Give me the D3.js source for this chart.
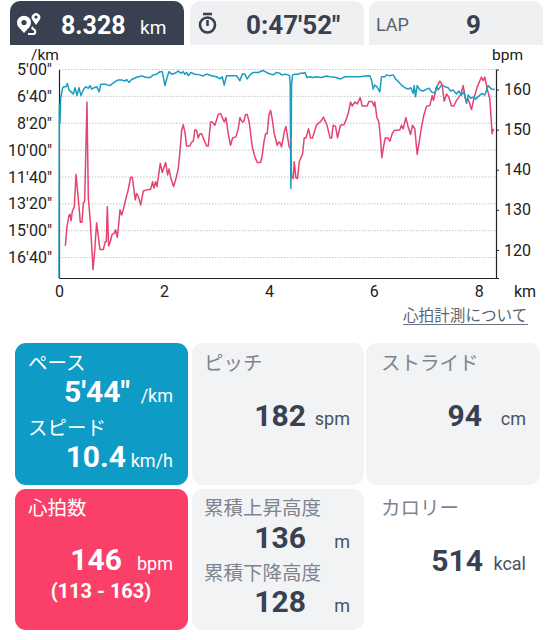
<!DOCTYPE html>
<html>
<head>
<meta charset="utf-8">
<script src="https://cdn.jsdelivr.net/npm/d3@7"></script>
<style>
  html, body { margin: 0; padding: 0; background: #fff; }
  text { font-family: Roboto, "Noto Sans CJK JP", sans-serif; }
  .jp { font-family: "Noto Sans CJK JP", sans-serif; }
  .axis path, .axis line { stroke: #222; }
  .axis text { font-size: 16px; fill: #222; font-family: Roboto, sans-serif; }
</style>
</head>
<body>
<div id="root"></div>
<script>
const paceKm = [0,0.006,0.019,0.032,0.07,0.095,0.133,0.159,0.19,0.241,0.273,0.305,0.343,0.381,0.419,0.464,0.508,0.559,0.59,0.622,0.667,0.717,0.768,0.794,0.876,0.971,1.067,1.13,1.194,1.257,1.289,1.333,1.384,1.48,1.575,1.67,1.733,1.797,1.86,1.924,1.968,2.019,2.063,2.095,
  2.146,2.21,2.273,2.324,2.368,2.4,2.432,2.463,2.514,2.59,2.686,2.749,2.813,2.908,3.003,3.067,3.111,3.149,3.194,3.289,3.384,3.448,3.492,3.543,3.587,3.638,3.702,3.797,3.892,3.987,4.083,4.146,4.21,
  4.241,4.305,4.368,4.393,4.406,4.419,4.432,4.451,4.495,4.558,4.59,4.654,4.685,4.73,4.781,4.844,4.908,5.003,5.098,5.162,5.257,5.365,5.448,5.543,5.638,5.733,5.829,5.924,5.955,5.987,6.019,6.057,6.114,6.146,6.21,6.241,6.305,
  6.369,6.413,6.464,6.527,6.591,6.654,6.705,6.75,6.769,6.794,6.826,6.877,6.94,7.004,7.054,7.099,7.162,7.194,7.226,7.289,7.353,7.416,7.461,7.512,7.575,7.62,7.67,7.715,7.766,7.797,7.848,7.912,7.937,7.988,8.064,8.115,8.178,8.242,8.305]
const paceSec = [1076,432,500,407,368,364,364,352,376,385,391,368,397,368,397,376,364,370,360,373,368,364,383,355,355,360,345,339,339,343,337,348,337,329,324,330,330,320,318,308,308,360,327,308,
  318,314,306,314,308,318,311,323,311,318,320,324,317,323,327,335,327,358,323,323,323,342,317,318,335,320,311,311,304,314,320,311,314,
  320,318,320,323,358,743,358,320,318,318,314,314,311,330,327,330,327,330,324,327,329,335,327,327,327,327,324,323,339,373,358,364,383,327,327,320,323,
  320,335,345,358,368,373,368,389,360,401,360,376,380,373,370,383,389,364,376,358,364,368,380,376,391,380,395,383,426,395,407,401,411,401,389,395,360,373,374]

const hrKm = [0.121,0.152,0.19,0.21,0.229,0.254,0.292,0.324,0.356,0.406,0.438,0.464,0.489,0.533,0.559,0.597,0.648,0.679,0.717,0.781,0.844,0.883,0.902,0.921,0.946,0.978,1.01,1.054,1.079,1.111,1.143,1.162,1.194,1.225,1.276,1.314,1.365,1.397,1.454,1.479,1.511,1.556,1.606,1.702,1.746,1.784,1.81,1.841,1.867,1.93,1.968,2.032,
  2.07,2.095,2.133,2.184,2.229,2.273,2.305,2.337,2.368,2.4,2.432,2.495,2.527,2.559,2.59,2.622,2.654,2.686,2.717,2.781,2.813,2.844,2.889,2.921,2.971,3.035,3.079,3.149,3.181,3.225,3.27,3.308,3.371,3.416,3.448,3.492,3.524,3.556,3.587,3.625,3.683,3.733,3.778,3.841,3.873,3.905,3.937,3.968,4.0,4.032,4.063,4.102,4.159,4.19,
  4.21,4.241,4.292,4.324,4.356,4.387,4.413,4.432,4.463,4.483,4.514,4.546,4.578,4.641,4.673,4.705,4.756,4.794,4.832,4.908,4.952,4.99,5.041,5.105,5.168,5.194,5.225,5.27,5.308,5.365,5.429,5.467,5.511,5.556,5.587,5.638,5.683,5.74,5.778,5.873,5.905,5.968,6.0,6.019,6.057,6.095,6.127,6.152,6.184,6.216,6.273,
  6.305,6.35,6.388,6.496,6.527,6.559,6.61,6.654,6.699,6.737,6.781,6.826,6.864,6.908,6.953,7.004,7.067,7.112,7.137,7.194,7.258,7.302,7.34,7.385,7.429,7.48,7.524,7.575,7.62,7.658,7.702,7.753,7.797,7.861,7.905,7.969,8.02,8.051,8.083,8.115,8.159,8.21,8.254,8.28,8.305]
const hrBpm = [121,125.8,128.6,128.9,127.3,129.6,130.8,138.8,134.5,126.9,126.9,131.8,132,156.9,132.9,127.1,115.1,119.6,126.8,120.1,120.1,122.1,122.1,130.8,121,122.1,123.8,124.2,125,123.1,127.1,130,128.7,130,132.9,134.7,138.1,138.1,132.5,134.1,133.3,131.2,134.7,135.1,135.1,137,135.4,137,135.8,141.6,139.3,141.8,
  138.7,140.2,137.8,135.8,137.8,140.3,144.5,149.8,151.2,149.4,145.9,145.9,146.9,147.1,150,149.8,147.9,149,149,146.9,145.9,145.9,151.9,151.9,151.1,153.8,154,151.9,153,149,146.1,147.9,148.2,150.2,153,151.9,152.1,153.8,153.8,151.9,145.7,143.2,141.8,141.8,143.6,146.9,149,149,153.6,154.8,152.7,149,146.1,146.9,
  146.8,145.7,149.4,150.8,148.2,145.7,145.3,138.3,137.8,142,138,137.8,142,143.9,147.9,147.9,150.2,147.9,147.9,151.2,151.7,152.1,153.1,151.2,147.9,147.9,151.1,150.8,148,151.1,151.2,152.3,154,156.9,155.9,156.9,156.4,158,155.9,155.9,157,157,155.9,156.9,153.1,151.9,147.8,143,145.7,147.9,147.9,
  147.1,149,149.8,150,151.1,150.2,153,150.7,148.8,151.1,150.2,143.8,146.9,150.7,153.6,155.8,156,158.5,157.3,160.6,162.1,161.2,157.1,158.9,158.1,155.9,155.9,157.3,158.1,158.8,161,157.3,157.7,155,157.7,160.6,162.2,163.1,162.2,163.1,160.2,157.7,149,150.2]

const kmTicks = [0,2,4,6,8]
const paceTicks = [300,400,500,600,700,800,900,1000]
const bpmTicks = [120,130,140,150,160]

const width = 554, height = 640
const svg = d3.select('#root').append('svg')
  .attr('width', width).attr('height', height)
  .style('display', 'block')

const dark = '#394050', grey = '#7d848e', card = '#f2f3f5'

const x = d3.scaleLinear().domain([0, 8.328]).range([59, 496])
const yPace = d3.scaleLinear().domain([300, 1076]).range([69.5, 278])
const yBpm = d3.scaleLinear().domain([113, 165]).range([278, 69.5])

const paceLabel = s => `${Math.floor(s / 60)}'${String(s % 60).padStart(2, '0')}"`

// grid
svg.append('g').selectAll('line')
  .data(paceTicks)
  .enter().append('line')
  .attr('x1', x(0)).attr('x2', x(8.328))
  .attr('y1', d => yPace(d)).attr('y2', d => yPace(d))
  .attr('stroke', '#c4c6c9').attr('stroke-width', 1).attr('stroke-dasharray', '1.5 1.5')

// axes
const bottom = svg.append('g').attr('class', 'axis')
  .attr('transform', `translate(0,${yPace(1076)})`)
  .call(d3.axisBottom(x).tickValues(kmTicks).tickSize(0).tickPadding(7.5))
const left = svg.append('g').attr('class', 'axis')
  .attr('transform', `translate(${x(0)},0)`)
  .call(d3.axisLeft(yPace).tickValues(paceTicks).tickFormat(paceLabel).tickSize(0).tickPadding(7))
const right = svg.append('g').attr('class', 'axis')
  .attr('transform', `translate(${x(8.328)},0)`)
  .call(d3.axisRight(yBpm).tickValues(bpmTicks).tickSize(3).tickPadding(5))
bottom.select('.domain').attr('stroke-width', 1.2)
left.select('.domain').attr('stroke-width', 1.2)
right.select('.domain').attr('stroke-width', 1.2)

// lines
const hrLine = d3.line().x((d, i) => x(hrKm[i])).y(d => yBpm(d))
const paceLine = d3.line().x((d, i) => x(paceKm[i])).y(d => yPace(d))

svg.append('path').datum(hrBpm)
  .attr('d', hrLine).attr('fill', 'none')
  .attr('stroke', '#e4446f').attr('stroke-width', 1.5).attr('stroke-linejoin', 'round')
svg.append('path').datum(paceSec)
  .attr('d', paceLine).attr('fill', 'none')
  .attr('stroke', '#1a9dc0').attr('stroke-width', 1.5).attr('stroke-linejoin', 'round')

const label = (txt, px, py, size, fill, opts = {}) => {
  svg.append('text')
    .attr('x', px).attr('y', py)
    .attr('font-size', size)
    .attr('fill', fill)
    .attr('font-weight', opts.weight || 400)
    .attr('text-anchor', opts.anchor || 'start')
    .attr('class', opts.jp ? 'jp' : null)
    .text(txt)
}
const box = (bx, by, w, h, fill, r = 11) => {
  svg.append('rect').attr('x', bx).attr('y', by).attr('width', w).attr('height', h)
    .attr('rx', r).attr('fill', fill)
}
// top tabs have only the upper corners rounded
const tab = (bx, w, fill) => {
  const path = d3.path()
  path.moveTo(bx, 45)
  path.lineTo(bx, 11)
  path.arcTo(bx, 1, bx + 10, 1, 10)
  path.lineTo(bx + w - 10, 1)
  path.arcTo(bx + w, 1, bx + w, 11, 10)
  path.lineTo(bx + w, 45)
  path.closePath()
  svg.append('path').attr('d', path.toString()).attr('fill', fill)
}

label('/km', 31, 60, 15.5, '#222')
label('bpm', 492, 60, 15.5, '#222')
label('km', 514, 297, 16, '#222')

label('心拍計測について', 403, 321, 15.6, '#5d6573', {jp: true})
svg.append('line').attr('x1', 403).attr('x2', 528).attr('y1', 324.5).attr('y2', 324.5)
  .attr('stroke', '#6d7480').attr('stroke-width', 1.2)

// header
tab(10, 174, dark)
tab(190, 174, '#eff0f2')
tab(369, 174, '#eff0f2')
label('8.328', 61, 34, 25, '#fff', {weight: 700})
label('km', 140, 34, 19, '#fff')
label('0:47\'52"', 246, 34, 26, dark, {weight: 700})
label('LAP', 376, 31, 18, '#5a6270')
label('9', 466, 34, 26, dark, {weight: 700})

// route icon
svg.append('path')
  .attr('d', 'M24 33 L18.5 27 A7 7 0 1 1 29.5 27 Z M36 25 L32.5 20 A4.3 4.3 0 1 1 39.5 20 Z')
  .attr('fill', '#fff')
svg.append('circle').attr('cx', 24).attr('cy', 22.5).attr('r', 2.6).attr('fill', dark)
svg.append('circle').attr('cx', 36).attr('cy', 17).attr('r', 1.6).attr('fill', dark)
svg.append('path')
  .attr('d', 'M28 34 h5 c3 0 3 -4 0 -5 c-1 -.5 -1 -1 0 -2')
  .attr('fill', 'none').attr('stroke', '#fff').attr('stroke-width', 2)
// stopwatch icon
svg.append('circle').attr('cx', 207.5).attr('cy', 25).attr('r', 7.5)
  .attr('fill', 'none').attr('stroke', dark).attr('stroke-width', 2.6)
svg.append('path').attr('d', 'M203 14 h9 M207.5 20 v6')
  .attr('fill', 'none').attr('stroke', dark).attr('stroke-width', 2.6)

// cards
box(15, 343, 173, 142, '#0e9bc6')
box(15, 489, 173, 141, '#fa3f69')
box(192, 343, 172, 142, card)
box(192, 489, 172, 141, card)
box(366, 343, 174, 142, card)

label('ペース', 28, 370, 19.5, '#fff', {jp: true})
label('5\'44"', 130, 402, 30, '#fff', {weight: 700, anchor: 'end'})
label('/km', 173, 402, 18, '#fff', {anchor: 'end'})
label('スピード', 28, 435, 19.5, '#fff', {jp: true})
label('10.4', 126, 467, 30, '#fff', {weight: 700, anchor: 'end'})
label('km/h', 173, 467, 18, '#fff', {anchor: 'end'})

label('心拍数', 28, 515, 19.5, '#fff', {jp: true})
label('146', 122, 570, 30, '#fff', {weight: 700, anchor: 'end'})
label('bpm', 173, 570, 18, '#fff', {anchor: 'end'})
label('(113 - 163)', 101, 598, 20, '#fff', {weight: 700, anchor: 'middle'})

label('ピッチ', 204, 370, 19.5, grey, {jp: true})
label('182', 306, 426, 30, dark, {weight: 700, anchor: 'end'})
label('spm', 350, 425, 18, '#4a5160', {anchor: 'end'})

label('ストライド', 381, 370, 19.5, grey, {jp: true})
label('94', 482, 426, 30, dark, {weight: 700, anchor: 'end'})
label('cm', 526, 425, 18, '#4a5160', {anchor: 'end'})

label('累積上昇高度', 204, 515, 19.5, grey, {jp: true})
label('136', 306, 548, 30, dark, {weight: 700, anchor: 'end'})
label('m', 350, 548, 18, '#4a5160', {anchor: 'end'})
label('累積下降高度', 204, 580, 19.5, grey, {jp: true})
label('128', 306, 612, 30, dark, {weight: 700, anchor: 'end'})
label('m', 350, 612, 18, '#4a5160', {anchor: 'end'})

label('カロリー', 381, 515, 19.5, grey, {jp: true})
label('514', 483, 571, 30, dark, {weight: 700, anchor: 'end'})
label('kcal', 526, 570, 18, '#4a5160', {anchor: 'end'})
</script>
</body>
</html>
